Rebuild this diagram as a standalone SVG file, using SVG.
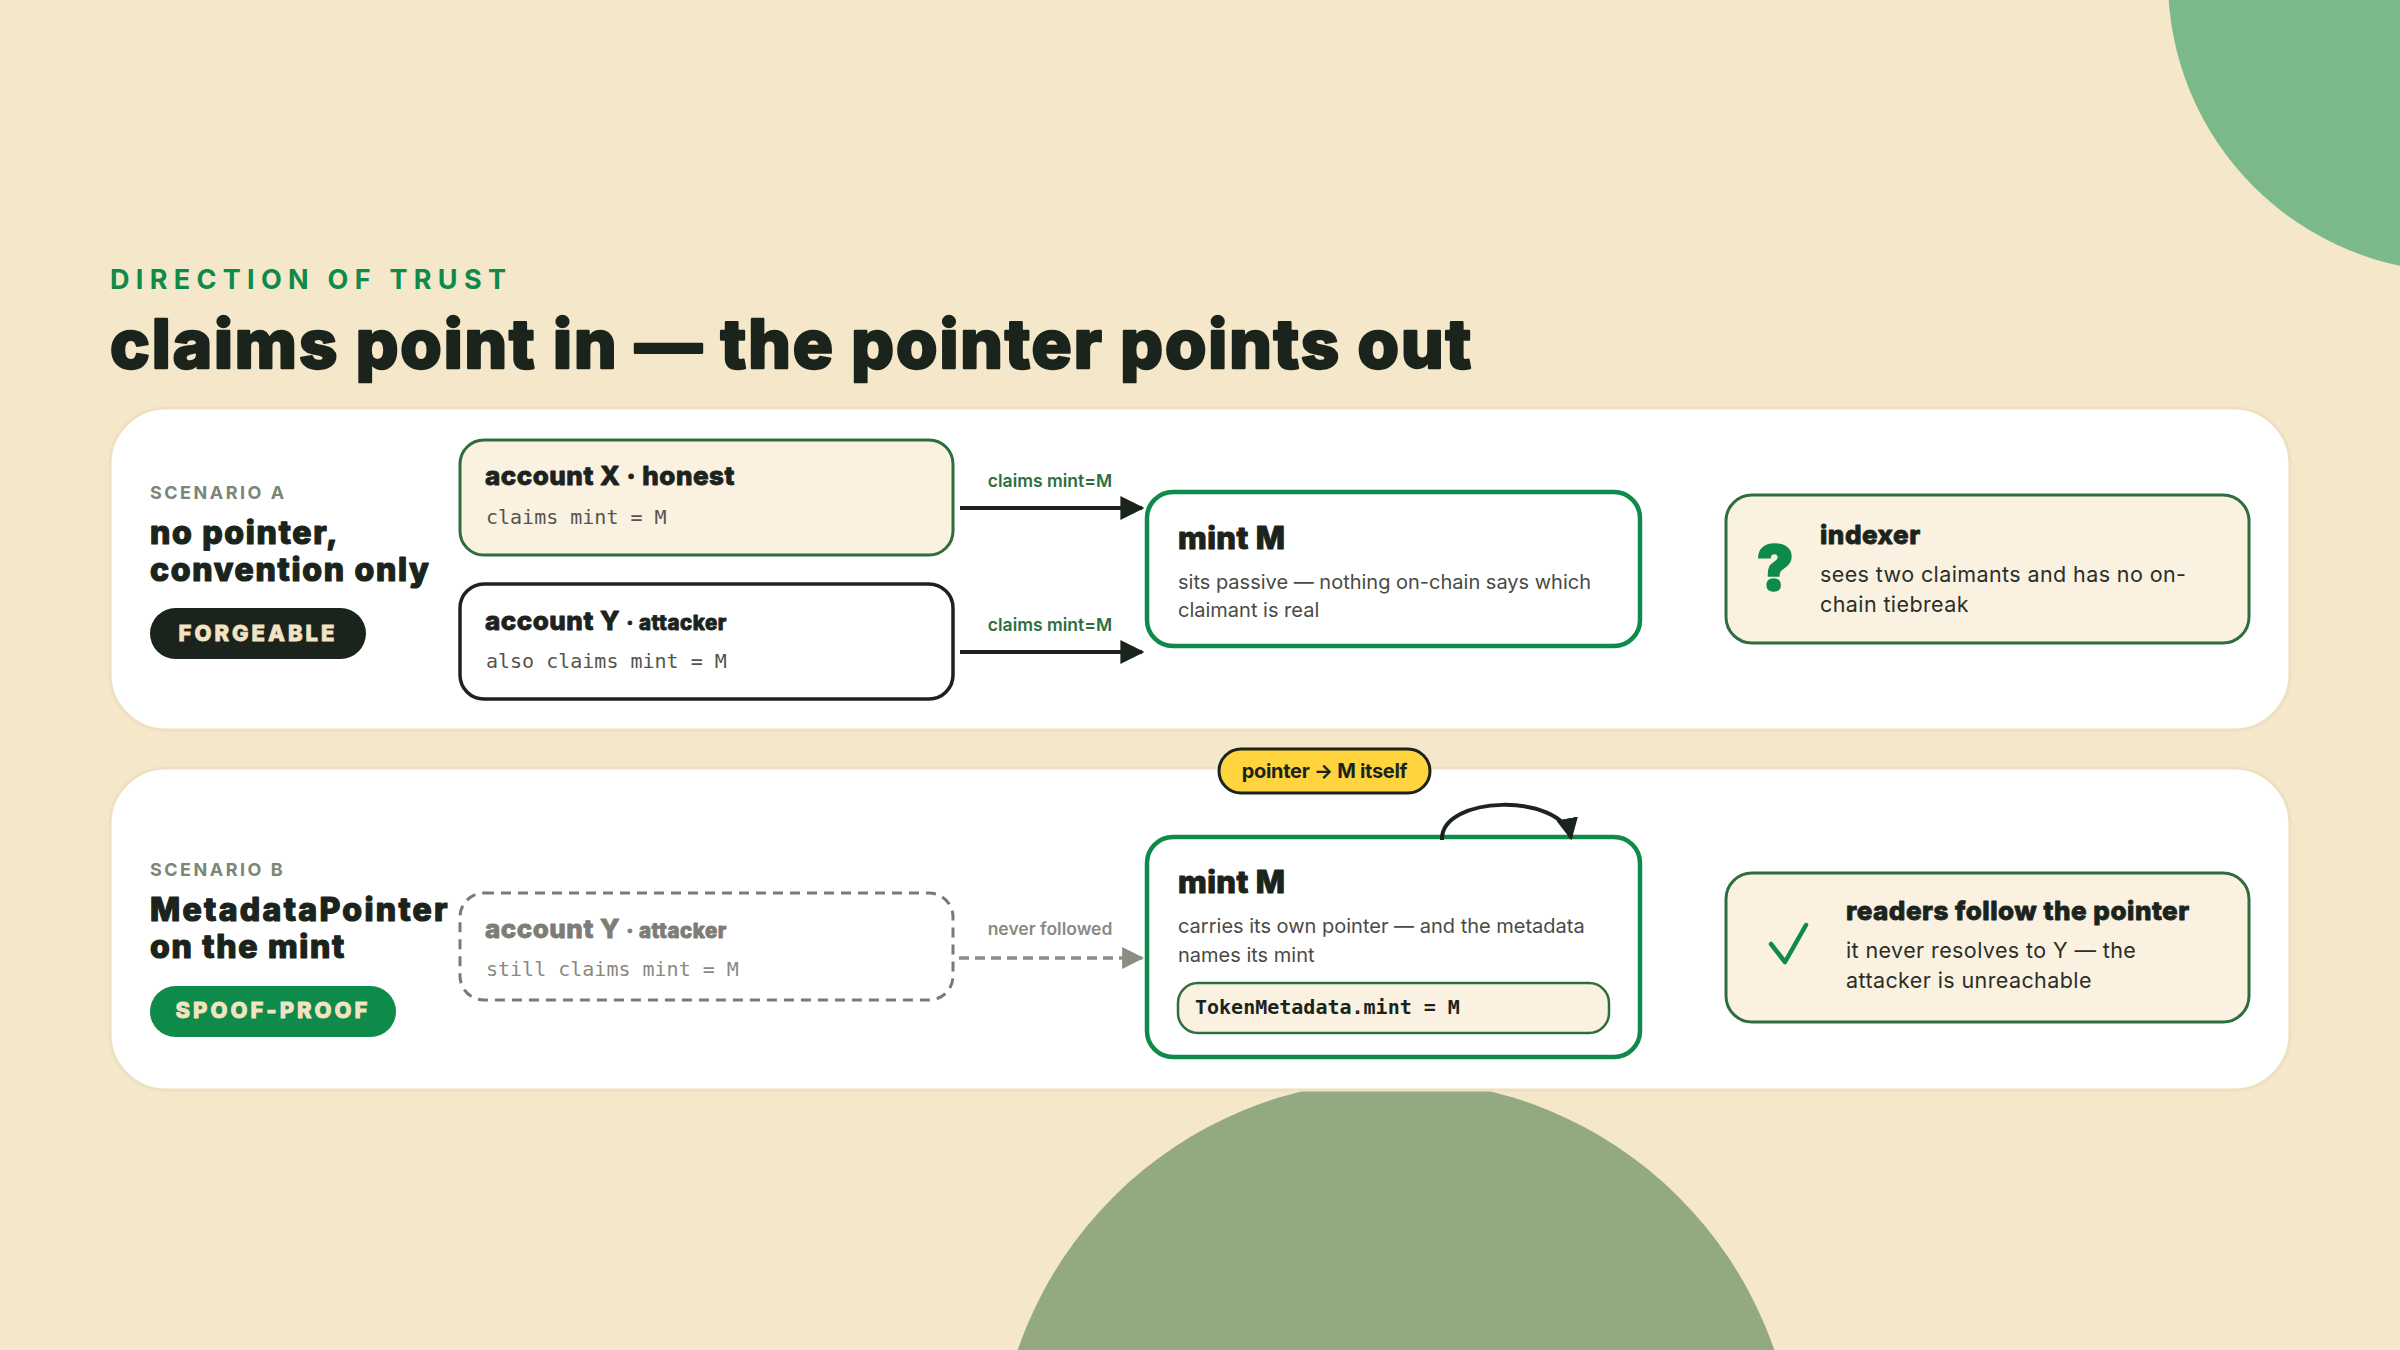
<svg xmlns="http://www.w3.org/2000/svg" width="2400" height="1350" viewBox="0 0 2400 1350">
<defs>
<style>
.bg{fill:#F5E7C9}
.panel{fill:#FFFFFF;stroke:#EEE0C0;stroke-width:3}
.eyebrow{font-family:Inter,"Noto Sans",sans-serif;font-weight:700;font-size:27px;letter-spacing:6.3px;fill:#0E8A4A}
.title{font-family:Inter,"Noto Sans",sans-serif;font-weight:800;font-size:67px;letter-spacing:1.9px;fill:#1B241C;stroke:#1B241C;stroke-width:2.4px;stroke-linejoin:round}
.scen{font-family:Inter,"Noto Sans",sans-serif;font-weight:700;font-size:18px;letter-spacing:2.5px;fill:#7A8676}
.scent{font-family:Inter,"Noto Sans",sans-serif;font-weight:800;font-size:32px;letter-spacing:1.7px;fill:#1B241C;stroke:#1B241C;stroke-width:1.2px;stroke-linejoin:round}
.pilltxt{font-family:Inter,"Noto Sans",sans-serif;font-weight:800;font-size:22px;letter-spacing:3px;fill:#F3E3C3;stroke:#F3E3C3;stroke-width:0.8px}
.ntitle{font-family:Inter,"Noto Sans",sans-serif;font-weight:800;font-size:26px;letter-spacing:0.5px;fill:#1B241C;stroke:#1B241C;stroke-width:0.8px;stroke-linejoin:round}
.nsmall{font-size:20.5px}
.mono{font-family:"DejaVu Sans Mono","Liberation Mono",monospace;font-size:20px;fill:#55554E}
.monob{font-family:"DejaVu Sans Mono","Liberation Mono",monospace;font-size:20px;font-weight:700;fill:#1B241C}
.mtitle{font-family:Inter,"Noto Sans",sans-serif;font-weight:800;font-size:31px;letter-spacing:0.4px;fill:#1B241C;stroke:#1B241C;stroke-width:1px;stroke-linejoin:round}
.body{font-family:Inter,"Noto Sans",sans-serif;font-weight:400;font-size:20px;fill:#4A4A44}
.bodyd{font-family:Inter,"Noto Sans",sans-serif;font-weight:400;font-size:21.5px;letter-spacing:0.4px;fill:#2A2E28}
.elabel{font-family:Inter,"Noto Sans",sans-serif;font-weight:600;font-size:17.5px;fill:#2E6E3E;text-anchor:middle}
.glabel{font-family:Inter,"Noto Sans",sans-serif;font-weight:600;font-size:17.5px;fill:#8A8A82;text-anchor:middle}
.cream{fill:#FAF1E1;stroke:#2E6E3E;stroke-width:3}
.whiteb{fill:#FFFFFF;stroke:#1B241C;stroke-width:3.5}
.mint{fill:#FFFFFF;stroke:#0E8A4A;stroke-width:4.5}
.dashbox{fill:none;stroke:#7A7A72;stroke-width:3;stroke-dasharray:10 7}
.edge{fill:none;stroke:#1B241C;stroke-width:4}
.gedge{fill:none;stroke:#8A8F84;stroke-width:3.5;stroke-dasharray:10 6}
</style>
<marker id="ah" viewBox="0 0 10 10" refX="9" refY="5" markerWidth="6" markerHeight="6" markerUnits="strokeWidth" orient="auto">
<path d="M0,0 L10,5 L0,10 Z" fill="#1B241C"/>
</marker>
<marker id="ahg" viewBox="0 0 10 10" refX="9" refY="5" markerWidth="6.3" markerHeight="6.3" markerUnits="strokeWidth" orient="auto">
<path d="M0,0 L10,5 L0,10 Z" fill="#8A8F84"/>
</marker>
<marker id="ahs" viewBox="0 0 10 10" refX="9" refY="5" markerWidth="5.5" markerHeight="5.5" markerUnits="strokeWidth" orient="auto">
<path d="M0,0 L10,5 L0,10 Z" fill="#1B241C"/>
</marker>
</defs>

<rect class="bg" x="0" y="0" width="2400" height="1350"/>
<circle cx="2460" cy="-20" r="292" fill="#7BB98A"/>
<circle cx="1396" cy="1480" r="400" fill="#93A982"/>

<g id="header">
<text class="eyebrow" x="110" y="289">DIRECTION OF TRUST</text>
<text class="title" x="110" y="368">claims point in — the pointer points out</text>
</g>

<g id="panel-a">
<rect class="panel" x="110" y="408" width="2180" height="322" rx="56"/>
<text class="scen" x="150" y="499">SCENARIO A</text>
<text class="scent" x="150" y="544">no pointer,</text>
<text class="scent" x="150" y="581">convention only</text>
<rect x="150" y="608" width="216" height="51" rx="25.5" fill="#1B241C"/>
<text class="pilltxt" x="258" y="641" text-anchor="middle">FORGEABLE</text>
</g>

<g id="panel-b">
<rect class="panel" x="110" y="768" width="2180" height="322" rx="56"/>
<text class="scen" x="150" y="876">SCENARIO B</text>
<text class="scent" x="150" y="921" style="letter-spacing:2.3px">MetadataPointer</text>
<text class="scent" x="150" y="958">on the mint</text>
<rect x="150" y="986" width="246" height="51" rx="25.5" fill="#0E8A4A"/>
<text class="pilltxt" x="273" y="1018" text-anchor="middle">SPOOF-PROOF</text>
</g>

<g id="account-x">
<rect class="cream" x="460" y="440" width="493" height="115" rx="24"/>
<text class="ntitle" x="485" y="485">account X · honest</text>
<text class="mono" x="486" y="524">claims mint = M</text>
</g>

<g id="account-y">
<rect class="whiteb" x="460" y="584" width="493" height="115" rx="24"/>
<text class="ntitle" x="485" y="630">account Y <tspan class="nsmall">· attacker</tspan></text>
<text class="mono" x="486" y="668">also claims mint = M</text>
</g>

<g id="mint-a">
<rect class="mint" x="1147" y="492" width="493" height="154" rx="26"/>
<text class="mtitle" x="1178" y="549">mint M</text>
<text class="body" x="1178" y="589">sits passive — nothing on-chain says which</text>
<text class="body" x="1178" y="617">claimant is real</text>
</g>

<g id="indexer">
<rect class="cream" x="1726" y="495" width="523" height="148" rx="26"/>
<text x="1775" y="590" text-anchor="middle" font-family="Inter,'Noto Sans',sans-serif" font-weight="900" font-size="62" fill="#0E8A4A" stroke="#0E8A4A" stroke-width="1.5">?</text>
<text class="ntitle" x="1820" y="544">indexer</text>
<text class="bodyd" x="1820" y="582">sees two claimants and has no on-</text>
<text class="bodyd" x="1820" y="612">chain tiebreak</text>
</g>

<g id="account-y-b">
<rect class="dashbox" x="460" y="893" width="493" height="107" rx="24"/>
<text class="ntitle" x="485" y="938" style="fill:#7D7D75;stroke:#7D7D75">account Y <tspan class="nsmall">· attacker</tspan></text>
<text class="mono" x="486" y="976" style="fill:#8A8A82">still claims mint = M</text>
</g>

<g id="mint-b">
<rect class="mint" x="1147" y="837" width="493" height="220" rx="26"/>
<text class="mtitle" x="1178" y="893">mint M</text>
<text class="body" x="1178" y="933">carries its own pointer — and the metadata</text>
<text class="body" x="1178" y="962">names its mint</text>
<rect x="1178" y="983" width="431" height="50" rx="20" fill="#FAF1E1" stroke="#2E6E3E" stroke-width="2.5"/>
<text class="monob" x="1195" y="1014">TokenMetadata.mint = M</text>
</g>

<g id="readers">
<rect class="cream" x="1726" y="873" width="523" height="149" rx="26"/>
<path d="M1771,944 L1785,962 L1806,925" fill="none" stroke="#0E8A4A" stroke-width="4.5" stroke-linecap="round" stroke-linejoin="round"/>
<text class="ntitle" x="1846" y="920">readers follow the pointer</text>
<text class="bodyd" x="1846" y="958">it never resolves to Y — the</text>
<text class="bodyd" x="1846" y="988">attacker is unreachable</text>
</g>

<g id="connectors">
<line class="edge" x1="960" y1="508" x2="1142" y2="508" marker-end="url(#ah)"/>
<text class="elabel" x="1050" y="487">claims mint=M</text>
<line class="edge" x1="960" y1="652" x2="1142" y2="652" marker-end="url(#ah)"/>
<text class="elabel" x="1050" y="631">claims mint=M</text>
<line class="gedge" x1="959" y1="958" x2="1142" y2="958" marker-end="url(#ahg)"/>
<text class="glabel" x="1050" y="935">never followed</text>
<path class="edge" d="M1442,840 C1440,795 1562,792 1571,838" marker-end="url(#ahs)"/>
</g>

<g id="pointer-label">
<rect x="1219" y="749" width="211" height="44" rx="22" fill="#FFD43F" stroke="#1B241C" stroke-width="3"/>
<text x="1324.5" y="778" text-anchor="middle" font-family="Inter,'Noto Sans',sans-serif" font-weight="700" font-size="20" letter-spacing="-0.3" fill="#1B241C">pointer → M itself</text>
</g>
</svg>
